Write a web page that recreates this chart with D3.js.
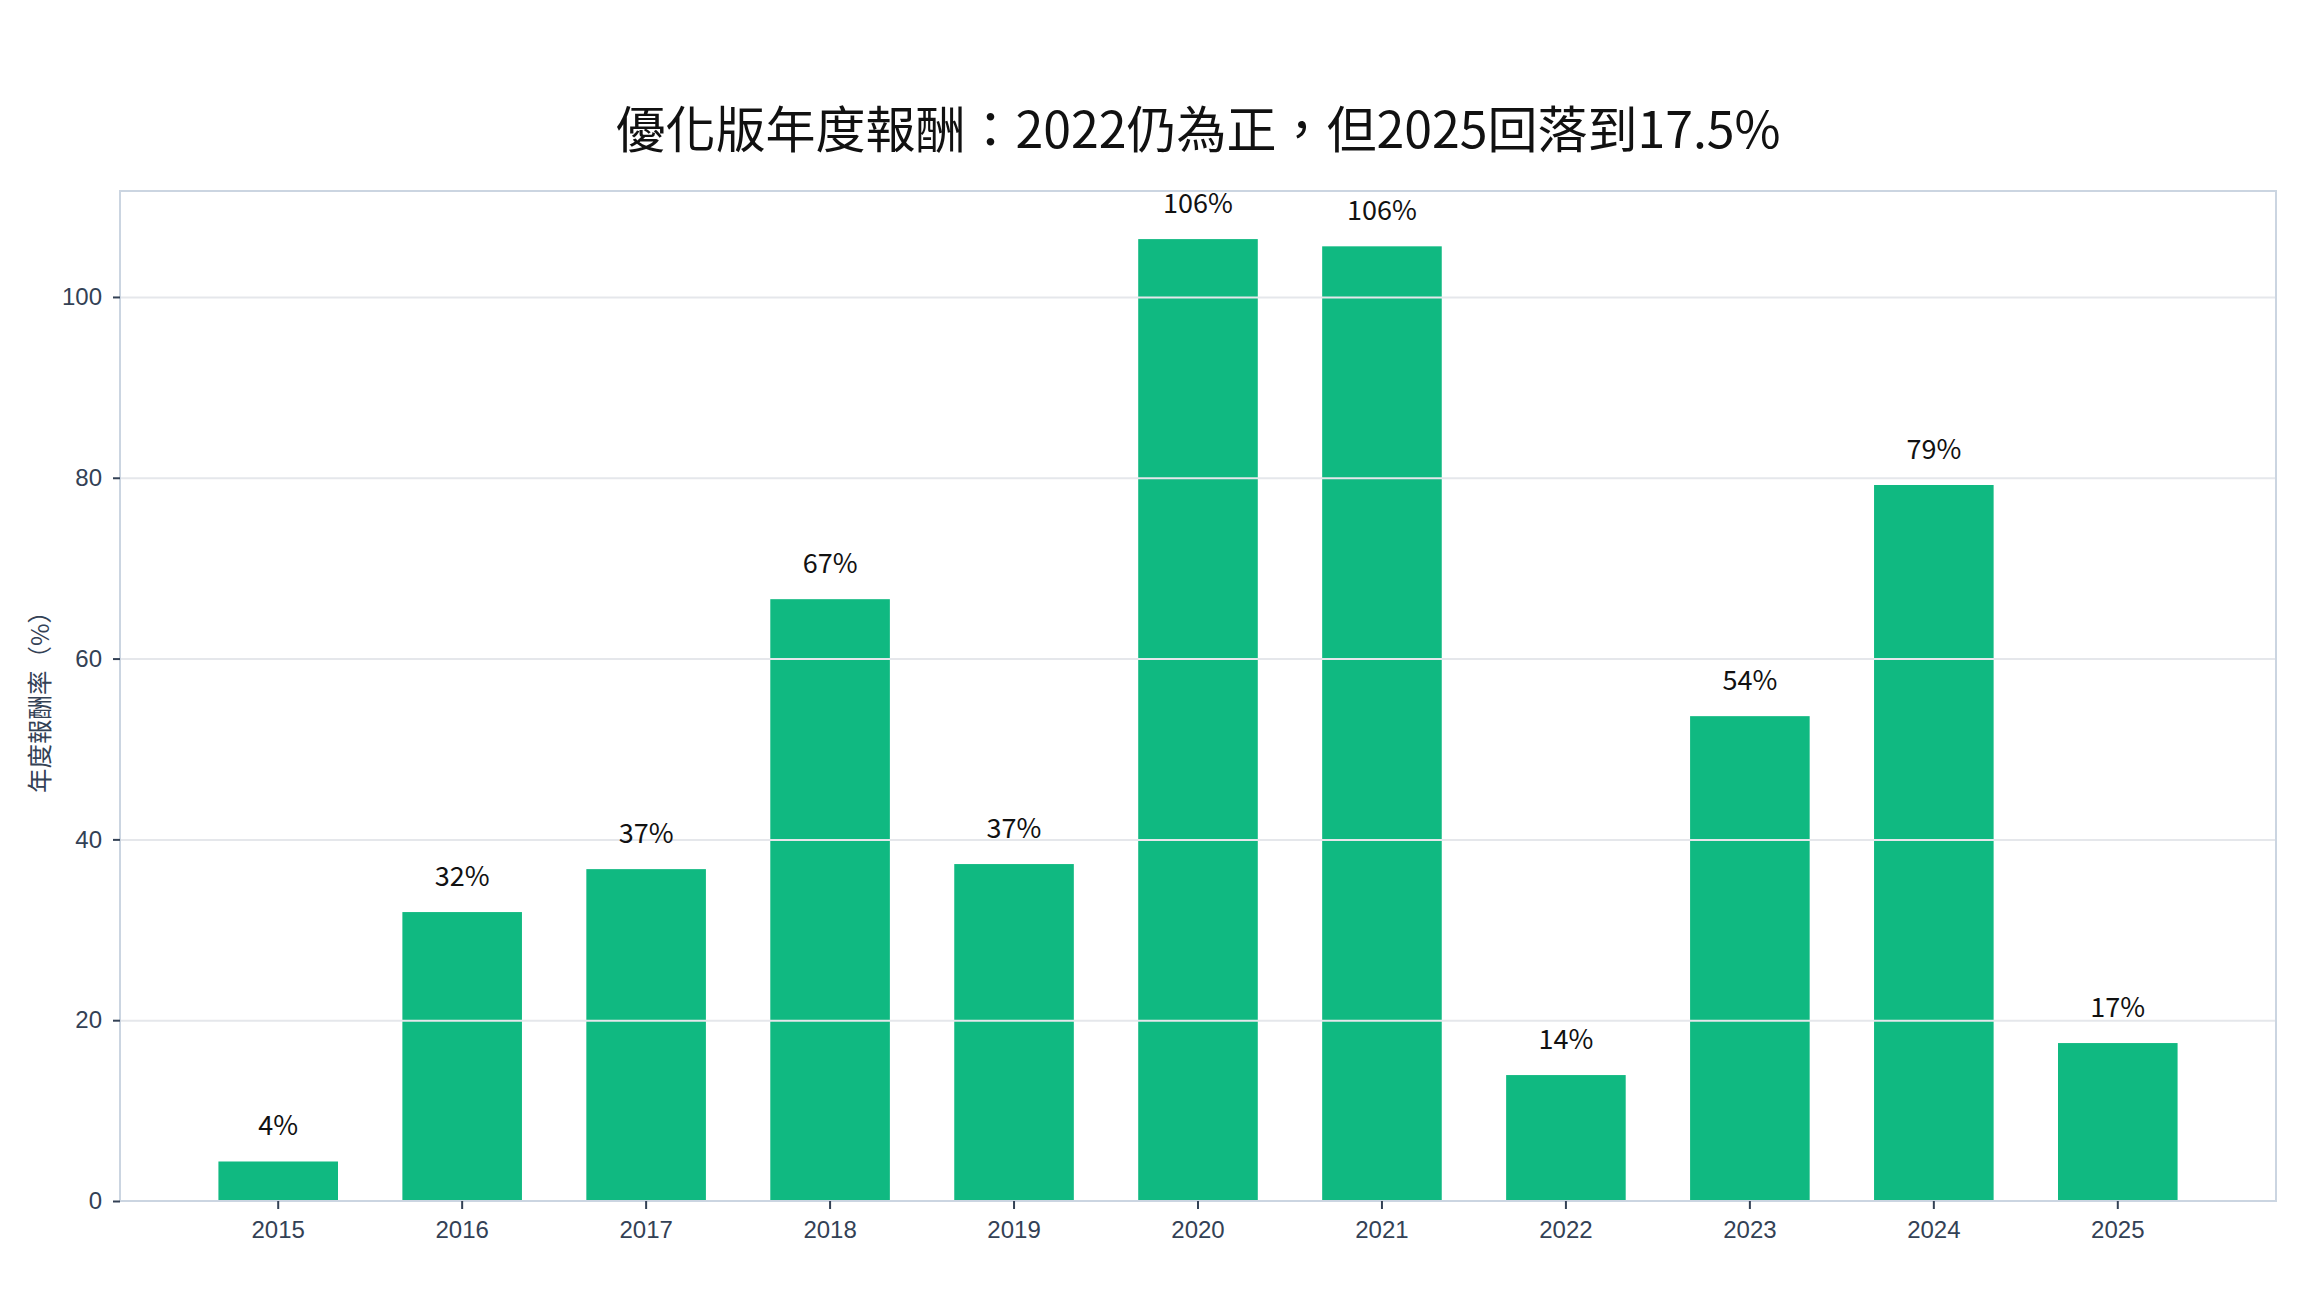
<!DOCTYPE html>
<html>
<head>
<meta charset="utf-8">
<script src="https://cdn.jsdelivr.net/npm/d3@7"></script>
<style>
  html, body { margin: 0; padding: 0; background: #fff; }
  svg { display: block; font-family: "Noto Sans CJK TC", "Noto Sans", sans-serif; }
</style>
</head>
<body>
<svg id="chart"></svg>
<script>
const years = ['2015', '2016', '2017', '2018', '2019', '2020', '2021', '2022', '2023', '2024', '2025'];
const returns = [4.37, 31.96, 36.71, 66.57, 37.27, 106.4, 105.6, 13.93, 53.63, 79.2, 17.47];
const yTicks = [0, 20, 40, 60, 80, 100];
const titleText = '優化版年度報酬：2022仍為正，但2025回落到17.5%';
const yLabelText = '年度報酬率（%）';

const width = 2304;
const height = 1296;
const margin = { top: 191, right: 28, bottom: 95, left: 120 };
const chartWidth = width - margin.left - margin.right;
const chartHeight = height - margin.top - margin.bottom;

const root = d3.select('#chart')
  .attr('width', width)
  .attr('height', height);

const svg = root.append('g')
  .attr('transform', `translate(${margin.left},${margin.top})`);

// Scales
const xScale = d3.scaleBand()
  .domain(years)
  .range([0, chartWidth])
  .paddingInner(0.35)
  .paddingOuter(0.535);

const yScale = d3.scaleLinear()
  .domain([0, d3.max(returns) * 1.05])
  .range([chartHeight, 0]);

// Bars
svg.selectAll('.bar')
  .data(returns)
  .enter()
  .append('rect')
  .attr('class', 'bar')
  .attr('x', (d, i) => xScale(years[i]))
  .attr('width', xScale.bandwidth())
  .attr('y', d => yScale(d))
  .attr('height', d => chartHeight - yScale(d))
  .attr('fill', '#10b981');

// Grid lines (drawn over the bars)
svg.append('g')
  .attr('class', 'grid')
  .call(d3.axisLeft(yScale)
    .tickValues(yTicks.filter(t => t > 0))
    .tickSize(-chartWidth)
    .tickFormat(''))
  .call(g => g.select('.domain').remove())
  .selectAll('line')
  .attr('stroke', '#e5e7eb')
  .attr('stroke-width', 2);

// Value labels
svg.selectAll('.value')
  .data(returns)
  .enter()
  .append('text')
  .attr('class', 'value')
  .attr('x', (d, i) => xScale(years[i]) + xScale.bandwidth() / 2)
  .attr('y', d => yScale(d) - 26)
  .attr('text-anchor', 'middle')
  .attr('fill', '#111')
  .style('font-size', '27px')
  .text(d => `${Math.round(d)}%`);

// Frame
svg.append('rect')
  .attr('width', chartWidth)
  .attr('height', chartHeight)
  .attr('fill', 'none')
  .attr('stroke', '#cbd5e1')
  .attr('stroke-width', 2);

// Axes
const xAxis = svg.append('g')
  .attr('transform', `translate(0,${chartHeight})`)
  .call(d3.axisBottom(xScale).tickSize(8).tickPadding(12))
  .call(g => g.select('.domain').remove());

const yAxis = svg.append('g')
  .call(d3.axisLeft(yScale).tickValues(yTicks).tickSize(7).tickPadding(11))
  .call(g => g.select('.domain').remove());

svg.selectAll('.tick line')
  .filter(function() { return !this.closest('.grid'); })
  .attr('stroke', '#334155')
  .attr('stroke-width', 2);

xAxis.selectAll('.tick text')
  .attr('fill', '#334155')
  .style('font-size', '24px');

yAxis.selectAll('.tick text')
  .attr('fill', '#334155')
  .style('font-size', '24px');

// Y axis label
svg.append('text')
  .attr('transform', `translate(-71,${chartHeight / 2}) rotate(-90)`)
  .attr('text-anchor', 'middle')
  .attr('fill', '#334155')
  .style('font-size', '24.5px')
  .text(yLabelText);

// Title
root.append('text')
  .attr('x', margin.left + chartWidth / 2)
  .attr('y', 148)
  .attr('text-anchor', 'middle')
  .attr('fill', '#111')
  .style('font-size', '50px')
  .text(titleText);
</script>
</body>
</html>
